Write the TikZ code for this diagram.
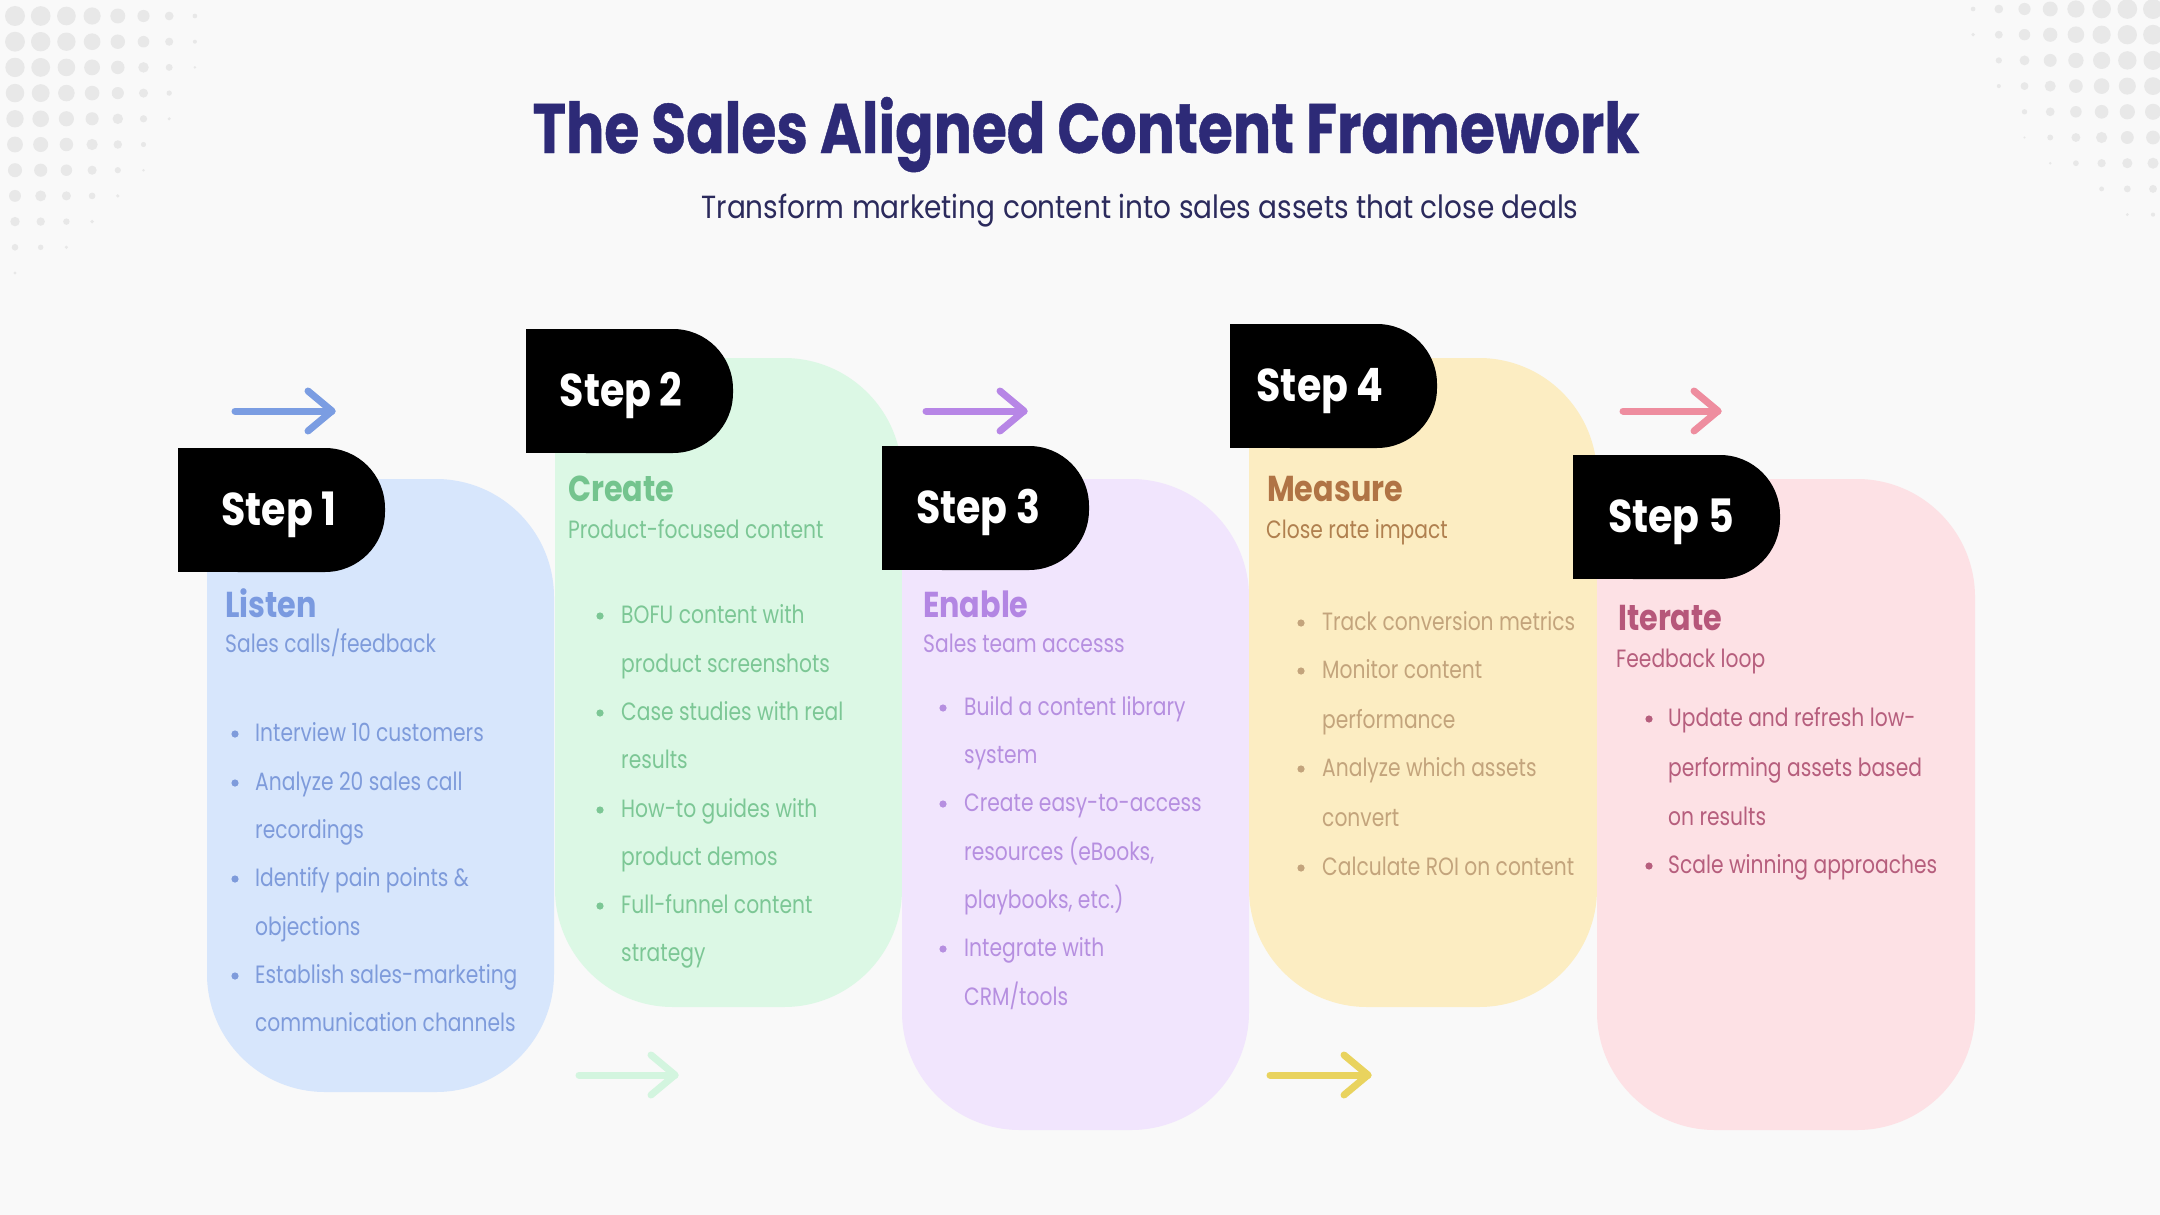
\documentclass[tikz,border=0pt]{standalone}
\usepackage{fontspec}
\setmainfont{Poppins}
\newfontfamily\titlefont[FakeStretch=0.81, BoldFeatures={FakeBold=0.6}]{Poppins}
\newfontfamily\subtfont[FakeStretch=0.873]{Poppins}
\newfontfamily\headfont[FakeStretch=0.84]{Poppins}
\newfontfamily\bodyfont[FakeStretch=0.81]{Poppins}
\newfontfamily\stepfont[FakeStretch=0.86]{Poppins}
\definecolor{bg}{HTML}{F9F9F9}
\definecolor{dotc}{HTML}{E8E8E8}
\definecolor{titlec}{HTML}{2D2A77}
\definecolor{subc}{HTML}{2B2A5C}
\definecolor{cAfill}{HTML}{D7E6FC}
\definecolor{cAhead}{HTML}{7A9AE0}
\definecolor{cAbody}{HTML}{7E9BDB}
\definecolor{cBfill}{HTML}{DCF8E5}
\definecolor{cBhead}{HTML}{74C48E}
\definecolor{cBbody}{HTML}{7CC795}
\definecolor{cCfill}{HTML}{F1E5FD}
\definecolor{cChead}{HTML}{B386E3}
\definecolor{cCbody}{HTML}{B68FE0}
\definecolor{cDfill}{HTML}{FCEDC2}
\definecolor{cDhead}{HTML}{B07445}
\definecolor{cDsub}{HTML}{B0804F}
\definecolor{cDbody}{HTML}{C3A47C}
\definecolor{cEfill}{HTML}{FDE1E5}
\definecolor{cEhead}{HTML}{B6577A}
\definecolor{cEbody}{HTML}{B65E7D}
\definecolor{arA}{HTML}{7B9DE2}
\definecolor{arB}{HTML}{D3F5DF}
\definecolor{arC}{HTML}{B786E6}
\definecolor{arD}{HTML}{E9D35E}
\definecolor{arE}{HTML}{EE8D9F}
\newcommand{\cardshape}[5]{%
  \fill[#5, rounded corners=118pt] (#1,#2) rectangle (#3,#4);
  \fill[#5] (#1,#2) rectangle ({#1+130},{#2+130});}
\newcommand{\badge}[5]{% x1 y1 name textcenter-x text
  \fill[black, rounded corners=60pt] (#1,#2) rectangle ({#1+207},{#2+124});
  \fill[black] (#1,#2) rectangle ({#1+80},{#2+124});
  \node[steptext] (#3) at (#4,{#2+77}) {#5};}
\newcommand{\fwdarrow}[4]{% x1 x2 y color
  \draw[arrowline, #4] (#1,#3) -- (#2,#3);
  \draw[arrowline, #4] ({#2-24},{#3-20}) -- (#2,#3) -- ({#2-24},{#3+20});}
\newcommand{\cardlines}[5]{% prefix dotx textx color list
  \foreach \yy/\bul/\txt in {#5}{%
    \node[bodytext, text=#4] (#1-\yy) at (#3,{\yy+6}) {\txt};
    \ifnum\bul=1 \fill[#4] (#2,{\yy+1}) circle[radius=3.6pt];\fi
  }}
\begin{document}
\begin{tikzpicture}[x=1pt,y=-1pt,
  steptext/.style={anchor=base, inner sep=0pt, text=white,
    font=\stepfont\bfseries\fontsize{46}{50}\selectfont},
  headtext/.style={anchor=base west, inner sep=0pt,
    font=\headfont\bfseries\fontsize{36}{40}\selectfont},
  subtext/.style={anchor=base west, inner sep=0pt,
    font=\bodyfont\fontsize{25}{30}\selectfont},
  bodytext/.style={anchor=mid west, inner sep=0pt,
    font=\bodyfont\fontsize{25}{30}\selectfont},
  arrowline/.style={line width=7pt, line cap=round, line join=round}]
\fill[bg] (0,0) rectangle (2160,1215);
\useasboundingbox (0,0) rectangle (2160,1215);
% dot patterns
\foreach \i in {0,...,8}{\foreach \j in {0,...,11}{%
  \pgfmathsetmacro{\aa}{\i/8}\pgfmathsetmacro{\bb}{\j/11}%
  \pgfmathsetmacro{\dd}{pow(\aa*sqrt(\aa)+\bb*sqrt(\bb)+0.0001,0.6667)}%
  \pgfmathsetmacro{\rr}{10*(1-\dd*\dd)}%
  \ifdim\rr pt>1.2pt \fill[dotc] ({15+25.7*\i},{16+25.7*\j}) circle[radius=\rr pt];\fi
}}
\foreach \i in {0,...,8}{\foreach \j in {0,...,9}{%
  \pgfmathsetmacro{\aa}{\i/8}\pgfmathsetmacro{\bb}{\j/9}%
  \pgfmathsetmacro{\dd}{pow(\aa*sqrt(\aa)+\bb*sqrt(\bb)+0.0001,0.6667)}%
  \pgfmathsetmacro{\rr}{10*(1-\dd*\dd)}%
  \ifdim\rr pt>1.2pt \fill[dotc] ({2153-25.7*\i},{9+25.7*\j}) circle[radius=\rr pt];\fi
}}
% title
\node[anchor=base, inner sep=0pt, text=titlec,
  font=\titlefont\bfseries\fontsize{70}{80}\selectfont] (title) at (1086,153)
  {The Sales Aligned Content Framework};
\node[anchor=base, inner sep=0pt, text=subc,
  font=\subtfont\fontsize{32}{38}\selectfont] (subtitle) at (1140,218)
  {Transform marketing content into sales assets that close deals};
% cards
\cardshape{207}{479}{554}{1092}{cAfill}
\cardshape{555}{358}{902}{1007}{cBfill}
\cardshape{902}{479}{1249}{1130}{cCfill}
\cardshape{1249}{358}{1597}{1007}{cDfill}
\cardshape{1597}{479}{1975}{1130}{cEfill}
% badges
\badge{178}{448}{step1}{279}{Step 1}
\badge{526}{329}{step2}{621}{Step 2}
\badge{882}{446}{step3}{978}{Step 3}
\badge{1230}{324}{step4}{1320}{Step 4}
\badge{1573}{455}{step5}{1671}{Step 5}
% arrows
\fwdarrow{235}{332}{411}{arA}
\fwdarrow{926}{1024}{411}{arC}
\fwdarrow{1623}{1718}{411}{arE}
\fwdarrow{579}{675}{1075}{arB}
\fwdarrow{1270}{1368}{1075}{arD}
% card 1
\node[headtext, text=cAhead] (h1) at (225,617) {Listen};
\node[subtext, text=cAbody] (s1) at (225,652) {Sales calls/feedback};
\cardlines{c1}{235}{255}{cAbody}{733/1/{Interview 10 customers},782/1/{Analyze 20 sales call},830/0/{recordings},878/1/{Identify pain points \&},927/0/{objections},975/1/{Establish sales-marketing},1023/0/{communication channels}}
% card 2
\node[headtext, text=cBhead] (h2) at (568,501) {Create};
\node[subtext, text=cBbody] (s2) at (568,538) {Product-focused content};
\cardlines{c2}{600}{621}{cBbody}{615/1/{BOFU content with},664/0/{product screenshots},712/1/{Case studies with real},760/0/{results},809/1/{How-to guides with},857/0/{product demos},905/1/{Full-funnel content},953/0/{strategy}}
% card 3
\node[headtext, text=cChead] (h3) at (923,617) {Enable};
\node[subtext, text=cCbody] (s3) at (923,652) {Sales team accesss};
\cardlines{c3}{943}{964}{cCbody}{707/1/{Build a content library},755/0/{system},803/1/{Create easy-to-access},852/0/{resources (eBooks,},900/0/{playbooks, etc.)},948/1/{Integrate with},997/0/{CRM/tools}}
% card 4
\node[headtext, text=cDhead] (h4) at (1267,501) {Measure};
\node[subtext, text=cDsub] (s4) at (1266,538) {Close rate impact};
\cardlines{c4}{1301}{1322}{cDbody}{622/1/{Track conversion metrics},670/1/{Monitor content},720/0/{performance},768/1/{Analyze which assets},818/0/{convert},867/1/{Calculate ROI on content}}
% card 5
\node[headtext, text=cEhead] (h5) at (1618,630) {Iterate};
\node[subtext, text=cEbody] (s5) at (1616,667) {Feedback loop};
\cardlines{c5}{1649}{1668}{cEbody}{718/1/{Update and refresh low-},768/0/{performing assets based},817/0/{on results},865/1/{Scale winning approaches}}
\end{tikzpicture}
\end{document}
